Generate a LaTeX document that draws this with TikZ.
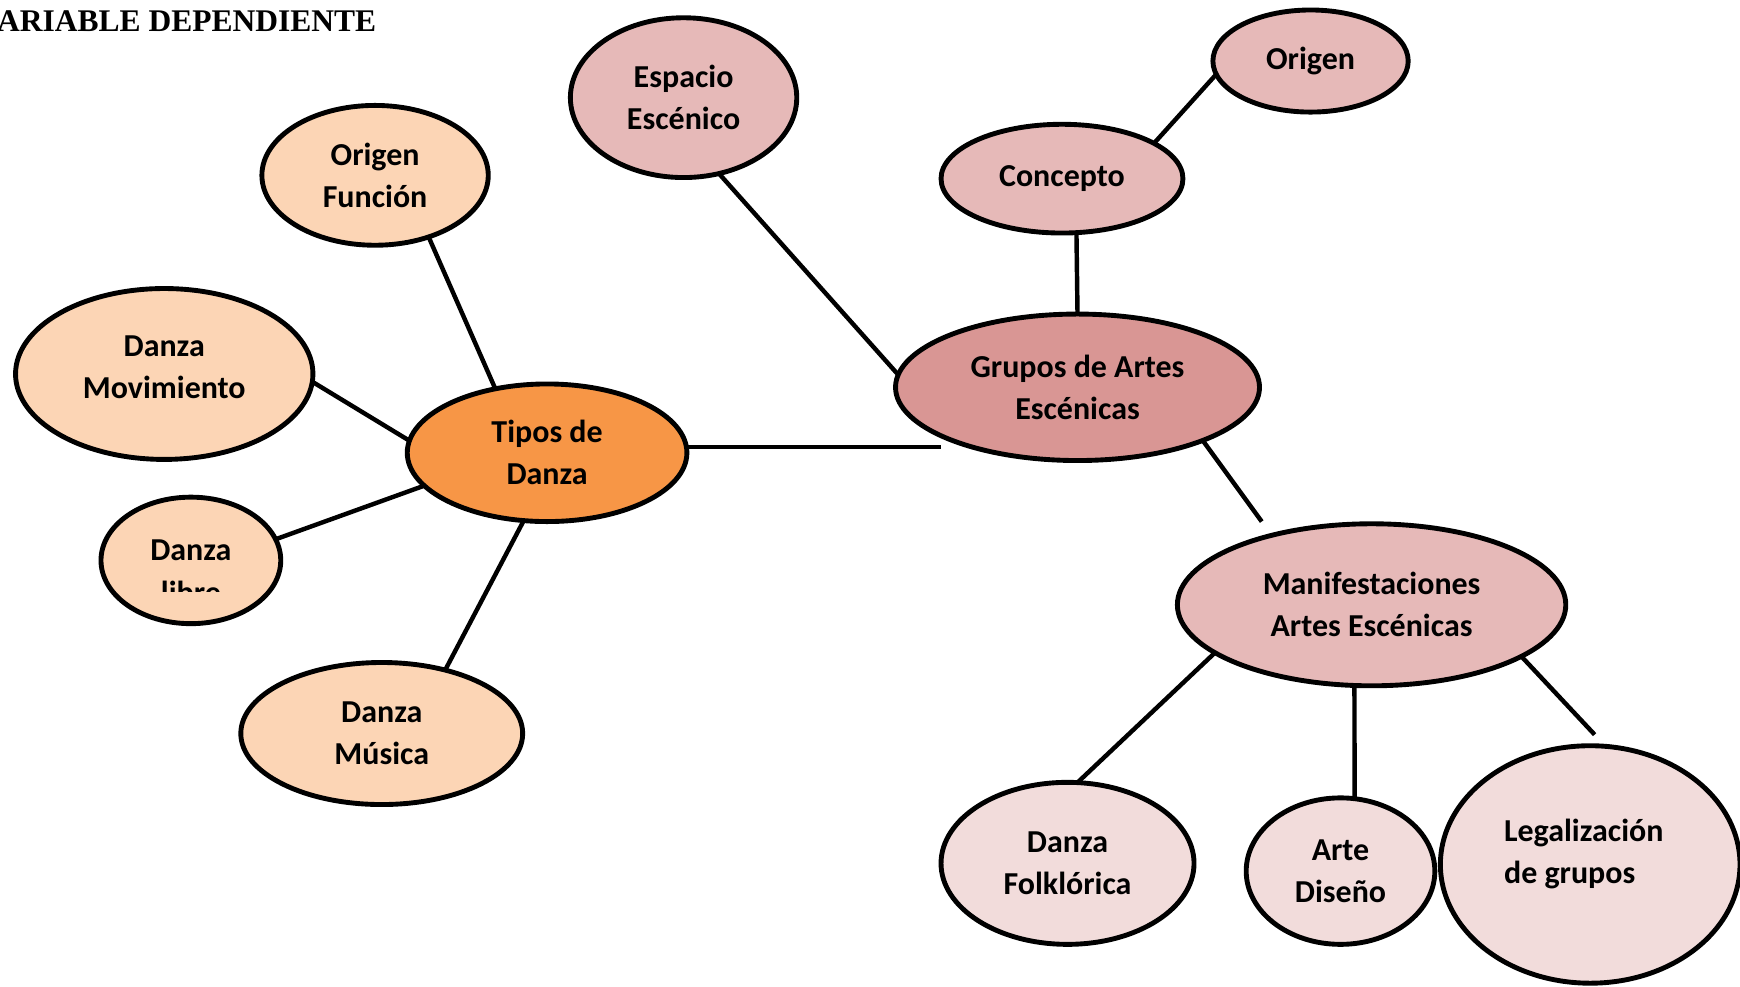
\documentclass[tikz,border=0pt]{standalone}
\usepackage{fontspec}
\setmainfont{Carlito}
\newfontfamily\titlefont{Liberation Serif}
\usetikzlibrary{shapes.geometric}
\definecolor{peach}{HTML}{FCD5B5}
\definecolor{orangeb}{HTML}{F79646}
\definecolor{redb}{HTML}{D99694}
\definecolor{pinkb}{HTML}{E6B9B8}
\definecolor{lightb}{HTML}{F2DCDB}
\begin{document}
\begin{tikzpicture}[x=0.5pt,y=-0.5pt,
  bub/.style={ellipse,draw=black,line width=2.2pt,inner sep=0pt,outer sep=0pt,
    font=\bfseries\fontsize{14.4}{19}\selectfont,align=center},
  txt/.style={inner sep=0pt,font=\bfseries\fontsize{14.4}{19}\selectfont},
  link/.style={line width=2pt}]
\useasboundingbox (0,0) rectangle (1568,889);
% title
\node[anchor=base west,inner sep=0pt,font=\titlefont\bfseries\fontsize{14.2}{16}\selectfont] (title) at (-3,28) {ARIABLE DEPENDIENTE};
% nodes
\node[bub,fill=pinkb,minimum width=102pt,minimum height=72pt] (E) at (616,88) {Espacio\\Escénico};
\node[bub,fill=pinkb,minimum width=88pt,minimum height=46pt] (O) at (1181,55) {Origen};
\node[bub,fill=pinkb,minimum width=109pt,minimum height=49pt] (C) at (957,161) {Concepto};
\node[bub,fill=peach,minimum width=102pt,minimum height=63pt] (OF) at (338,158) {Origen\\Función};
\node[bub,fill=peach,minimum width=134pt,minimum height=77pt] (DM) at (148,337) {};
\node[bub,fill=orangeb,minimum width=126pt,minimum height=62pt] (T) at (493,408) {Tipos de\\Danza};
\node[bub,fill=peach,minimum width=81pt,minimum height=57pt] (DL) at (172,505) {};
\node[bub,fill=peach,minimum width=127pt,minimum height=64pt] (DMu) at (344,661) {Danza\\Música};
\node[bub,fill=redb,minimum width=164pt,minimum height=66pt] (G) at (971,349) {Grupos de Artes\\Escénicas};
\node[bub,fill=pinkb,minimum width=175pt,minimum height=73pt] (M) at (1236,545) {Manifestaciones\\Artes Escénicas};
\node[bub,fill=lightb,minimum width=114pt,minimum height=73pt] (F) at (962,778) {Danza\\Folklórica};
\node[bub,fill=lightb,minimum width=85pt,minimum height=66pt] (A) at (1208,785) {Arte\\Diseño};
\node[bub,fill=lightb,minimum width=135pt,minimum height=107pt] (L) at (1433,779) {};
% texts placed separately
\node[txt,align=center] (DMt) at (148,331) {Danza\\Movimiento};
\node[txt,anchor=base] (DLa) at (172,505.5) {Danza};
\begin{scope}
  \clip (90,400) rectangle (254,533);
  \node[txt,anchor=base] (DLb) at (172,543.5) {libre};
\end{scope}
\node[txt,anchor=base west] (La) at (1355,758) {Legalización};
\node[txt,anchor=base west] (Lb) at (1355,796) {de grupos};
% free ends
\coordinate (tend) at (848,403);
\coordinate (mend) at (1137,470);
\coordinate (lend) at (1437,662);
% connectors
\draw[link] (E.-65.4) -- (G.176.9);
\draw[link] (C.-75.4) -- (G.90.9);
\draw[link] (C.21.2) -- (O.-172.6);
\draw[link] (OF.-49.5) -- (T.129.5);
\draw[link] (DM.-3.7) -- (T.175);
\draw[link] (DL.14) -- (T.-165.1);
\draw[link] (DMu.45.9) -- (T.-109.8);
\draw[link] (T.east |- tend) -- (tend);
\draw[link] (G.-23.2) -- (mend);
\draw[link] (M.-163.9) -- (F.83.2);
\draw[link] (M.-102) -- (A.79.8);
\draw[link] (M.-19) -- (lend);
\end{tikzpicture}
\end{document}
